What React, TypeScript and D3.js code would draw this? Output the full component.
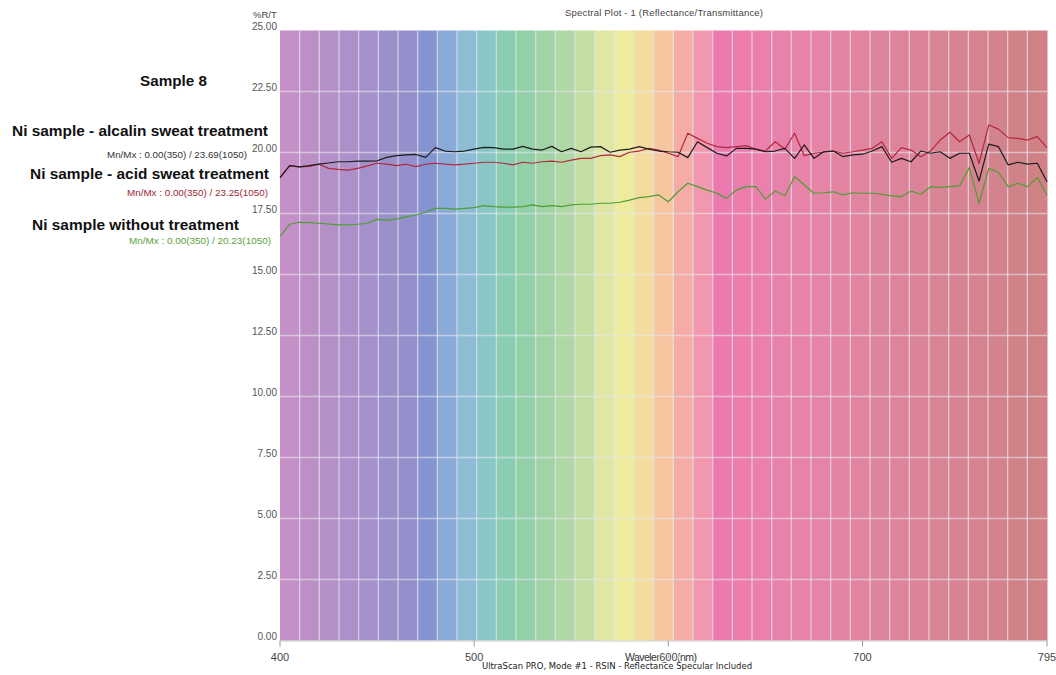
import React, { useRef, useEffect } from 'react';
import * as d3 from 'd3';

// wavelengths in nm, one reading every 5 nm
const wavelengths = [
  400, 405, 410, 415, 420, 425, 430, 435, 440, 445, 450, 455, 460, 465, 470, 475,
  480, 485, 490, 495, 500, 505, 510, 515, 520, 525, 530, 535, 540, 545, 550, 555,
  560, 565, 570, 575, 580, 585, 590, 595, 600, 605, 610, 615, 620, 625, 630, 635,
  640, 645, 650, 655, 660, 665, 670, 675, 680, 685, 690, 695, 700, 705, 710, 715,
  720, 725, 730, 735, 740, 745, 750, 755, 760, 765, 770, 775, 780, 785, 790, 795,
];

// Ni sample - alcalin sweat treatment
const alcalin = [
  18.97, 19.46, 19.41, 19.46, 19.52, 19.57, 19.62, 19.62, 19.65, 19.65, 19.66, 19.80, 19.87, 19.90, 19.92, 19.80,
  20.20, 20.06, 20.03, 20.06, 20.14, 20.21, 20.20, 20.14, 20.14, 20.25, 20.14, 20.10, 20.25, 20.03, 20.17, 20.03,
  20.22, 20.24, 20.01, 20.10, 20.14, 20.24, 20.14, 20.06, 20.03, 20.01, 19.79, 20.44, 20.20, 19.97, 19.86, 20.17,
  20.17, 20.14, 20.03, 20.06, 20.17, 19.76, 20.31, 19.76, 20.03, 20.06, 19.83, 19.90, 19.93, 20.06, 20.24, 19.60,
  19.76, 19.62, 20.06, 19.97, 20.03, 19.76, 19.97, 19.97, 18.83, 20.34, 20.24, 19.49, 19.60, 19.52, 19.56, 18.80,
];

// Ni sample - acid sweat treatment
const acid = [
  18.97, 19.46, 19.41, 19.43, 19.52, 19.35, 19.31, 19.28, 19.35, 19.45, 19.56, 19.52, 19.46, 19.52, 19.42, 19.52,
  19.56, 19.52, 19.49, 19.52, 19.56, 19.60, 19.60, 19.56, 19.49, 19.60, 19.56, 19.62, 19.65, 19.60, 19.69, 19.76,
  19.76, 19.87, 19.90, 19.83, 20.01, 20.06, 20.17, 20.10, 19.97, 19.83, 20.79, 20.58, 20.38, 20.24, 20.20, 20.24,
  20.28, 20.14, 20.06, 20.44, 20.14, 20.79, 19.87, 19.97, 20.01, 20.06, 19.97, 20.03, 20.10, 20.17, 20.44, 19.76,
  20.20, 20.10, 19.83, 20.06, 20.51, 20.83, 20.44, 20.72, 19.56, 21.13, 20.96, 20.61, 20.58, 20.51, 20.65, 20.20,
];

// Ni sample without treatment
const untreated = [
  16.55, 17.06, 17.14, 17.13, 17.10, 17.07, 17.03, 17.03, 17.06, 17.10, 17.26, 17.23, 17.27, 17.36, 17.44, 17.55,
  17.71, 17.71, 17.68, 17.71, 17.74, 17.82, 17.78, 17.76, 17.76, 17.78, 17.85, 17.78, 17.82, 17.78, 17.85, 17.88,
  17.88, 17.92, 17.92, 17.96, 18.05, 18.15, 18.19, 18.26, 17.98, 18.39, 18.74, 18.60, 18.46, 18.33, 18.12, 18.46,
  18.60, 18.60, 18.09, 18.42, 18.23, 19.01, 18.67, 18.33, 18.35, 18.39, 18.26, 18.35, 18.33, 18.33, 18.29, 18.22,
  18.19, 18.42, 18.29, 18.60, 18.57, 18.60, 18.63, 19.38, 17.92, 19.35, 19.19, 18.60, 18.74, 18.60, 18.98, 18.26,
];

const yTicks = [0, 2.5, 5, 7.5, 10, 12.5, 15, 17.5, 20, 22.5, 25];
const xTicks = [400, 500, 600, 700, 795];

// background spectrum, one colour per grid column (39 columns)
const bandColors = [
  '#c590c7', '#bc90c7', '#b490c8', '#ac90c9', '#a490ca', '#9c90cb', '#9490cc', '#8594d0',
  '#8aabd7', '#8ebcd5', '#88c7c6', '#8acdb3', '#92d0a8', '#a0d4a6', '#afd8a4', '#c4dfa4',
  '#dee8a4', '#eeeb9c', '#f4dc9e', '#f7c6a1', '#f6aca6', '#f298ae', '#ec7aae', '#ec7dad',
  '#eb80ad', '#e982ab', '#e783a8', '#e584a6', '#e384a3', '#e184a0', '#df849d', '#dd849a',
  '#db8497', '#d98494', '#d78391', '#d5838e', '#d3838b', '#d18288', '#cf8185',
];

const series = [
  { name: 'untreated', values: untreated, color: '#4f9d34' },
  { name: 'acid', values: acid, color: '#b3283f' },
  { name: 'alcalin', values: alcalin, color: '#1c1c1c' },
];

const notes = [
  { text: 'Sample 8', x: 140, y: 86, size: 14, len: 67, color: '#111', bold: true },
  { text: 'Ni sample - alcalin sweat treatment', x: 12, y: 136, size: 15, len: 256, color: '#111', bold: true },
  { text: 'Mn/Mx : 0.00(350) / 23.69(1050)', x: 107, y: 158, size: 9, len: 140, color: '#333', bold: false },
  { text: 'Ni sample - acid sweat treatment', x: 30, y: 179, size: 15, len: 239, color: '#111', bold: true },
  { text: 'Mn/Mx : 0.00(350) / 23.25(1050)', x: 127, y: 196, size: 9, len: 141, color: '#a02535', bold: false },
  { text: 'Ni sample without treatment', x: 32, y: 230, size: 15, len: 207, color: '#111', bold: true },
  { text: 'Mn/Mx : 0.00(350) / 20.23(1050)', x: 129, y: 244, size: 9, len: 142, color: '#5aa23a', bold: false },
];

const App = () => {
  const svgRef = useRef<SVGSVGElement>(null);

  useEffect(() => {
    if (!svgRef.current) return;
    const width = 1056;
    const height = 675;
    const margin = { top: 30.5, right: 9, bottom: 34.5, left: 280 };

    const svg = d3.select(svgRef.current);
    svg.selectAll('*').remove();
    svg.attr('width', width).attr('height', height);

    const x = d3.scaleLinear().domain([400, 795]).range([margin.left, width - margin.right]);
    const y = d3.scaleLinear().domain([0, 25]).range([height - margin.bottom, margin.top]);

    // spectrum columns
    const step = (795 - 400) / bandColors.length;
    svg.append('g')
      .selectAll('rect')
      .data(bandColors)
      .enter()
      .append('rect')
      .attr('x', (d, i) => x(400 + i * step))
      .attr('y', y(25))
      .attr('width', (d, i) => x(400 + (i + 1) * step) - x(400 + i * step) + 0.5)
      .attr('height', y(0) - y(25))
      .attr('fill', d => d);

    // grid
    svg.append('g')
      .selectAll('line')
      .data(bandColors.slice(1))
      .enter()
      .append('line')
      .attr('x1', (d, i) => x(400 + (i + 1) * step))
      .attr('x2', (d, i) => x(400 + (i + 1) * step))
      .attr('y1', y(25))
      .attr('y2', y(0))
      .attr('stroke', '#e6e6ee')
      .attr('stroke-opacity', 0.7)
      .attr('stroke-width', 1.3);

    svg.append('g')
      .selectAll('line')
      .data(yTicks.slice(1, -1))
      .enter()
      .append('line')
      .attr('x1', x(400))
      .attr('x2', x(795))
      .attr('y1', d => y(d))
      .attr('y2', d => y(d))
      .attr('stroke', '#e6e6ee')
      .attr('stroke-opacity', 0.6)
      .attr('stroke-width', 1.3);

    // bottom axis
    svg.append('line')
      .attr('x1', x(400)).attr('x2', x(795))
      .attr('y1', y(0) + 0.5).attr('y2', y(0) + 0.5)
      .attr('stroke', '#c8c8c8');

    svg.append('g')
      .selectAll('line')
      .data(xTicks)
      .enter()
      .append('line')
      .attr('x1', d => x(d)).attr('x2', d => x(d))
      .attr('y1', y(0)).attr('y2', y(0) + 6)
      .attr('stroke', '#9a9a9a');

    // axis title, partly hidden behind the 600 label like the original
    svg.append('text')
      .attr('x', 625).attr('y', 661)
      .attr('font-family', 'Liberation Sans, Arial, sans-serif')
      .attr('font-size', 10.5)
      .attr('fill', '#333')
      .attr('textLength', 72)
      .text('Wavelength (nm)');

    svg.append('g')
      .selectAll('text')
      .data(xTicks)
      .enter()
      .append('text')
      .attr('x', d => x(d))
      .attr('y', 661)
      .attr('text-anchor', 'middle')
      .attr('font-family', 'Liberation Sans, Arial, sans-serif')
      .attr('font-size', 11)
      .attr('fill', '#444')
      .attr('stroke', d => (d === 600 ? '#fff' : 'none'))
      .attr('stroke-width', 2.5)
      .attr('paint-order', 'stroke')
      .text(d => d);

    svg.append('text')
      .attr('x', 482).attr('y', 669)
      .attr('font-family', 'DejaVu Sans, Verdana, sans-serif')
      .attr('font-size', 8.5)
      .attr('fill', '#222')
      .attr('textLength', 270)
      .attr('lengthAdjust', 'spacingAndGlyphs')
      .text('UltraScan PRO, Mode #1 - RSIN - Reflectance Specular Included');

    // left axis labels
    svg.append('g')
      .selectAll('text')
      .data(yTicks)
      .enter()
      .append('text')
      .attr('x', 277)
      .attr('y', d => y(d) - 1)
      .attr('text-anchor', 'end')
      .attr('font-family', 'Liberation Sans, Arial, sans-serif')
      .attr('font-size', 10)
      .attr('fill', '#555')
      .text(d => d.toFixed(2));

    svg.append('text')
      .attr('x', 253).attr('y', 18)
      .attr('font-family', 'Liberation Sans, Arial, sans-serif')
      .attr('font-size', 9.5)
      .attr('fill', '#444')
      .text('%R/T');

    svg.append('text')
      .attr('x', 565).attr('y', 16)
      .attr('font-family', 'Liberation Sans, Arial, sans-serif')
      .attr('font-size', 9.5)
      .attr('fill', '#444')
      .attr('textLength', 198)
      .text('Spectral Plot - 1 (Reflectance/Transmittance)');

    // series lines
    const line = d3.line<number>()
      .x((d, i) => x(wavelengths[i]))
      .y(d => y(d));

    svg.append('g')
      .selectAll('path')
      .data(series)
      .enter()
      .append('path')
      .attr('d', d => line(d.values))
      .attr('fill', 'none')
      .attr('stroke', d => d.color)
      .attr('stroke-width', 1.2)
      .attr('stroke-linejoin', 'round');

    // annotations on the left
    svg.append('g')
      .selectAll('text')
      .data(notes)
      .enter()
      .append('text')
      .attr('x', d => d.x)
      .attr('y', d => d.y)
      .attr('font-family', 'Liberation Sans, Arial, sans-serif')
      .attr('font-size', d => d.size)
      .attr('font-weight', d => (d.bold ? 'bold' : 'normal'))
      .attr('fill', d => d.color)
      .attr('textLength', d => d.len)
      .attr('lengthAdjust', 'spacingAndGlyphs')
      .text(d => d.text);
  }, []);

  return (
    <svg
      ref={svgRef}
      style={{ position: 'absolute', left: 0, top: 0, background: 'white' }}
    />
  );
};

export default App;
